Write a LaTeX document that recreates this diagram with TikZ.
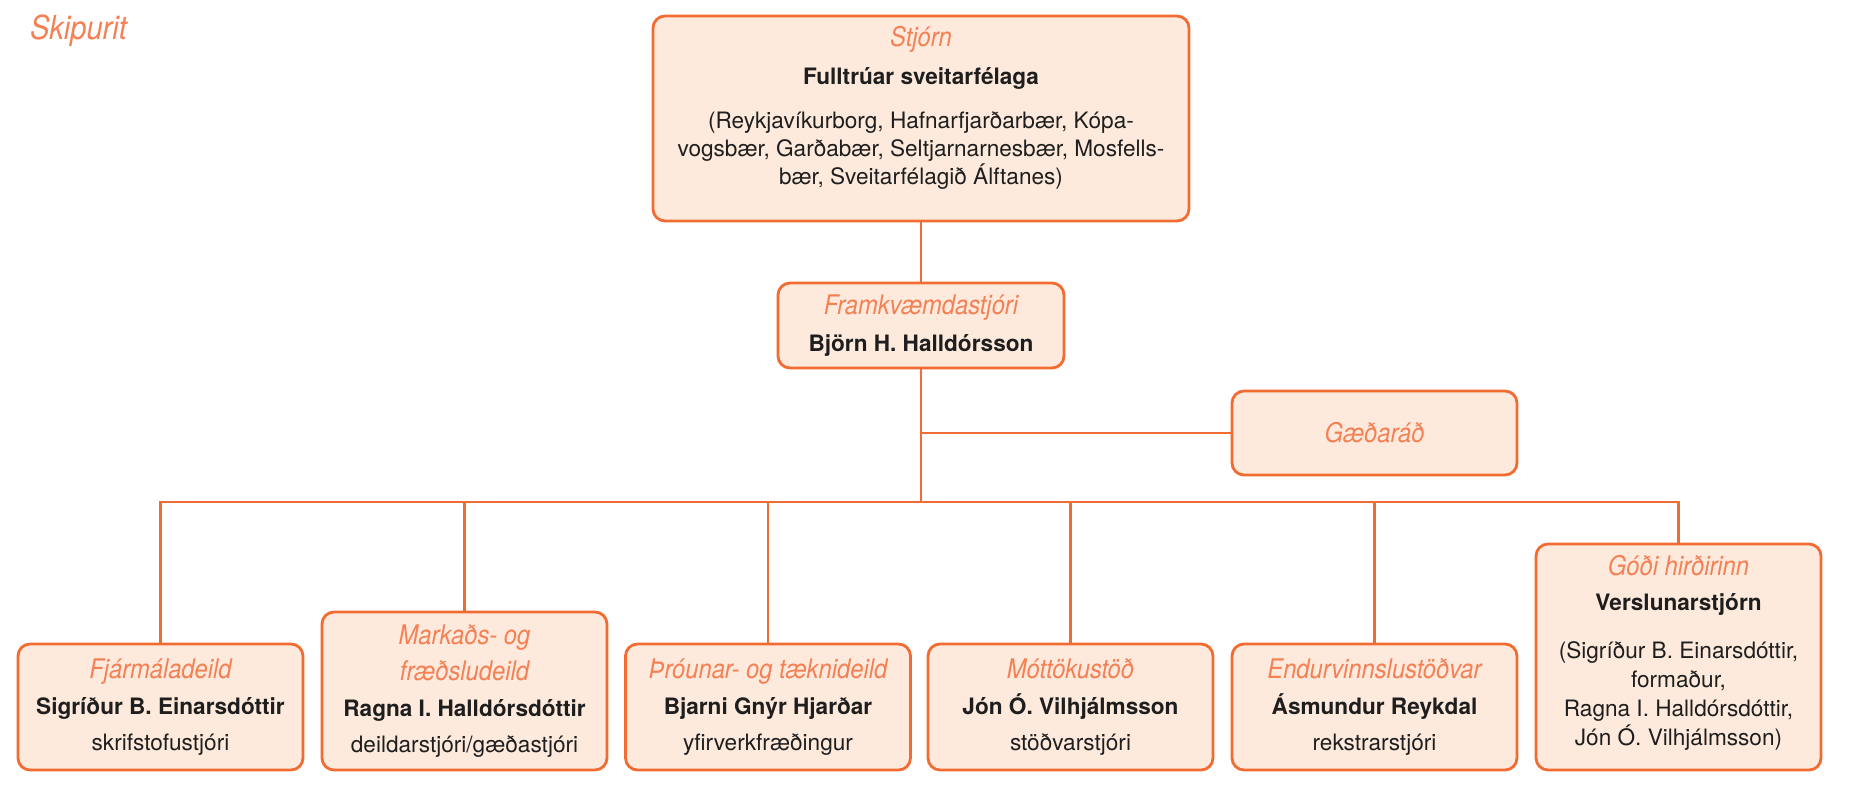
\documentclass[tikz,border=0pt]{standalone}
\usepackage{fontspec}
\setmainfont{TeX Gyre Heros}
\newfontfamily\titfont[FakeStretch=0.88]{TeX Gyre Heros}
\usepackage{xcolor}
\usepackage{tikz}
\definecolor{lineor}{HTML}{F26B32}
\definecolor{fillor}{HTML}{FDEADD}
\definecolor{titor}{HTML}{F48054}
\definecolor{textdk}{HTML}{1E1E1E}
\newcommand{\tit}[1]{{\titfont\itshape\fontsize{13.5}{16}\selectfont\color{titor}#1}}

\begin{document}
\begin{tikzpicture}[x=0.5pt, y=-0.5pt,
    box/.style={rectangle, rounded corners=6pt, draw=lineor, fill=fillor, line width=1.4pt,
      inner sep=0pt, align=center, text=textdk, minimum width=142.5pt, minimum height=63pt,
      font=\fontsize{11.3}{18}\selectfont},
    conn/.style={draw=lineor, line width=1.3pt}
    ]
    \useasboundingbox (0,0) rectangle (1856,802);
    \node[anchor=base west] (skip) at (23,40) {\titfont\itshape\fontsize{16.5}{18}\selectfont\color{titor}Skipurit};
    \node[box, minimum width=268pt, minimum height=102.5pt, font=\fontsize{11.3}{14}\selectfont] (stjorn) at (921,118.5)
      {\tit{Stjórn}\\[5pt] \textbf{Fulltrúar sveitarfélaga}\\[8pt]
       (Reykjavíkurborg, Hafnarfjarðarbær, Kópa-\\ vogsbær, Garðabær, Seltjarnarnesbær, Mosfells-\\ bær, Sveitarfélagið Álftanes)\\[-1pt]\mbox{}};
    \node[box, minimum width=143pt, minimum height=42.5pt, font=\fontsize{11.3}{18.5}\selectfont] (framk) at (921,325.5)
      {\tit{Framkvæmdastjóri}\\ \textbf{Björn H. Halldórsson}};
    \node[box, minimum height=42pt] (gaed) at (1374.5,433) {\tit{Gæðaráð}};
    \node[box] (fjar) at (160.5,707)
      {\tit{Fjármáladeild}\\ \textbf{Sigríður B. Einarsdóttir}\\ skrifstofustjóri};
    \node[box, minimum height=79pt] (mark) at (464.5,691)
      {\tit{Markaðs- og}\\ \tit{fræðsludeild}\\ \textbf{Ragna I. Halldórsdóttir}\\ deildarstjóri/gæðastjóri};
    \node[box] (throun) at (768,707)
      {\tit{Þróunar- og tæknideild}\\ \textbf{Bjarni Gnýr Hjarðar}\\ yfirverkfræðingur};
    \node[box] (mott) at (1070.5,707)
      {\tit{Móttökustöð}\\ \textbf{Jón Ó. Vilhjálmsson}\\ stöðvarstjóri};
    \node[box] (endur) at (1374.5,707)
      {\tit{Endurvinnslustöðvar}\\ \textbf{Ásmundur Reykdal}\\ rekstrarstjóri};
    \node[box, minimum height=113pt, font=\fontsize{11.3}{14.5}\selectfont] (godi) at (1678.5,657)
      {\tit{Góði hirðirinn}\\[3pt] \textbf{Verslunarstjórn}\\[9.5pt] (Sigríður B. Einarsdóttir,\\ formaður,\\
       Ragna I. Halldórsdóttir,\\ Jón Ó. Vilhjálmsson)\\[-8pt]\mbox{}};
    \coordinate (bus) at (921,502);
    \draw[conn] (stjorn) -- (framk);
    \draw[conn] (framk) -- (bus);
    \draw[conn] (framk.south |- gaed.west) -- (gaed.west);
    \draw[conn] (fjar.north) -- (fjar.north |- bus) -- (godi.north |- bus) -- (godi.north);
    \foreach \n in {mark,throun,mott,endur}
      \draw[conn] (\n.north) -- (\n.north |- bus);
  \end{tikzpicture}
\end{document}
